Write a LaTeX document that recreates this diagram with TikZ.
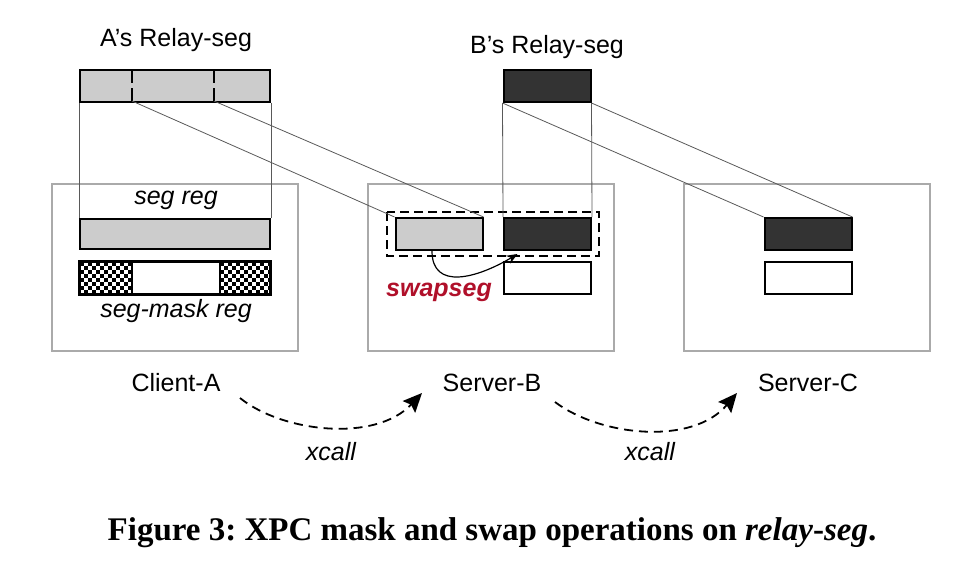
\documentclass[tikz,border=0pt]{standalone}
\usepackage{fontspec}
\setmainfont{Liberation Sans}
\newfontfamily\capfont{Liberation Serif}
\usepackage{xcolor}
\usepackage{tikz}
\usetikzlibrary{arrows.meta, positioning, calc}
\definecolor{regGray}{HTML}{CCCCCC}
\definecolor{regDark}{HTML}{333333}
\definecolor{boxGray}{HTML}{AAAAAA}
\definecolor{swapRed}{HTML}{B0102A}

\begin{document}
\begin{tikzpicture}[x=1pt, y=-1pt, font=\fontsize{25}{29}\selectfont,
    reg/.style={draw=black, line width=2pt, inner sep=0pt, minimum width=87pt, minimum height=32pt},
    host/.style={draw=boxGray, line width=1.8pt, minimum width=246pt, minimum height=167pt},
    link/.style={draw=black!65, line width=0.8pt},
    xcallarrow/.style={line width=1.8pt, dash pattern=on 9pt off 6pt, -{Stealth[length=19pt, width=17pt, inset=3pt]}}]
    \useasboundingbox (0,0) rectangle (978,568);
    % hosts
    \node[host] (clientbox) at (175,267.5) {};
    \node[host] (serverbbox) at (491,267.5) {};
    \node[host] (servercbox) at (807,267.5) {};
    \node (clientA) at (176,383) {Client-A};
    \node (serverB) at (492,383) {Server-B};
    \node (serverC) at (808,383) {Server-C};
    % relay segs
    \node at (176,40) {A's Relay-seg};
    \node at (547,47) {B's Relay-seg};
    \node[reg, fill=regGray, minimum width=190pt] (arelay) at (175,85.5) {};
    \node[reg, fill=regDark] (brelay) at (547,86) {};
    \foreach \x in {132,214} {
        \draw[line width=2pt, dash pattern=on 13pt off 5pt] (\x,70) -- (\x,101);
    }
    % client A regs
    \node[font=\fontsize{25}{29}\selectfont\itshape] at (176,200) {seg reg};
    \node[reg, fill=regGray, minimum width=190pt, minimum height=30pt] (segreg) at (175,233.5) {};
    \node[reg, minimum width=190pt] (maskreg) at (175,278) {};
    \foreach \xs in {80,220} {
        \foreach \i in {0,...,12} {
            \foreach \j in {0,...,7} {
                \pgfmathtruncatemacro\c{mod(\i+\j,2)}
                \ifnum\c=0 \fill (\xs+\i*4,262+\j*4) rectangle ++(4,4); \fi
            }
        }
    }
    \draw[line width=1.6pt] (132,262) -- (132,294) (220,262) -- (220,294);
    \draw[line width=2pt] (maskreg.north west) rectangle (maskreg.south east);
    \node[font=\fontsize{25}{29}\selectfont\itshape] at (176,311) {seg-mask reg};
    % server B regs
    \node[reg, fill=regGray] (bgrey) at (439,234) {};
    \node[reg, fill=regDark] (bdark) at (547.5,234) {};
    \node[reg] (bwhite) at (547.5,278) {};
    \draw[line width=2pt, dash pattern=on 9pt off 5pt] (387,212) rectangle (599,256);
    \node[text=swapRed, font=\fontsize{25}{29}\selectfont\bfseries\itshape] (swaplbl) at (439,292) {swapseg};
    \draw[line width=1.2pt, -{Stealth[length=11pt, width=9pt]}] ([xshift=-7pt]bgrey.south)
        .. controls +(0,40) and +(-40,24) .. ([xshift=-30pt, yshift=-3pt]bdark.south);
    % server C regs
    \node[reg, fill=regDark] (cdark) at (808,234) {};
    \node[reg] (cwhite) at (808,278) {};
    % links
    \draw[link] (arelay.south west) -- (segreg.north west);
    \draw[link] (arelay.south east) -- (segreg.north east);
    \draw[link] (132,101) -- (bgrey.north west);
    \draw[link] (214,101) -- (bgrey.north east);
    \draw[link] (brelay.south west) -- (bdark.north west);
    \draw[link] (brelay.south east) -- (bdark.north east);
    \draw[link] (brelay.south west) -- (cdark.north west);
    \draw[link] (brelay.south east) -- (cdark.north east);
    % xcalls
    \coordinate (xa) at (240,398);
    \coordinate (xb) at (422,393);
    \coordinate (xc) at (555,402);
    \coordinate (xd) at (737,393);
    \draw[xcallarrow] (xa) .. controls (282,432) and (375,443) .. (xb);
    \draw[xcallarrow] (xc) .. controls (600,436) and (692,446) .. (xd);
    \node[font=\fontsize{25}{29}\selectfont\itshape] at (331,452) {xcall};
    \node[font=\fontsize{25}{29}\selectfont\itshape] at (650,452) {xcall};
    % caption
    \node[font=\capfont\fontsize{33}{38}\selectfont\bfseries] (caption) at (492,533) {\frenchspacing Figure 3: XPC mask and swap operations on \textit{relay}-\textit{seg}.};
\end{tikzpicture}
\end{document}
